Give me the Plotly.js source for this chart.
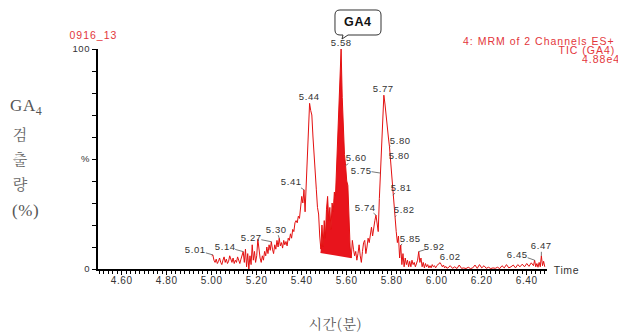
<!DOCTYPE html>
<html><head><meta charset="utf-8">
<script src="https://cdn.plot.ly/plotly-3.0.1.min.js"></script>
<style>
html,body{margin:0;padding:0;background:#fff;}
#chart{width:618px;height:335px;}
#chart text{letter-spacing:0.6px;}
</style>
</head><body><div id="chart"></div>
<script>
// Retention time (min)
const times = [
5.000,5.005,5.010,5.015,5.020,5.025,5.030,5.035,5.040,5.045,
5.050,5.055,5.060,5.065,5.070,5.075,5.080,5.085,5.090,5.095,
5.100,5.105,5.110,5.115,5.120,5.125,5.130,5.135,5.140,5.145,
5.150,5.155,5.160,5.165,5.170,5.175,5.180,5.185,5.190,5.195,
5.200,5.205,5.210,5.215,5.220,5.225,5.230,5.235,5.240,5.245,
5.250,5.255,5.260,5.265,5.270,5.275,5.280,5.285,5.290,5.295,
5.300,5.305,5.310,5.315,5.320,5.325,5.330,5.335,5.340,5.345,
5.350,5.355,5.360,5.365,5.370,5.375,5.380,5.385,5.390,5.395,
5.400,5.405,5.410,5.415,5.420,5.425,5.430,5.435,5.440,5.445,
5.450,5.455,5.460,5.465,5.470,5.475,5.480,5.485,5.490,5.495,
5.500,5.505,5.510,5.515,5.520,5.525,5.530,5.535,5.540,5.545,
5.550,5.555,5.560,5.565,5.570,5.575,5.580,5.585,5.590,5.595,
5.600,5.605,5.610,5.615,5.620,5.625,5.630,5.635,5.640,5.645,
5.650,5.655,5.660,5.665,5.670,5.675,5.680,5.685,5.690,5.695,
5.700,5.705,5.710,5.715,5.720,5.725,5.730,5.735,5.740,5.745,
5.750,5.755,5.760,5.765,5.770,5.775,5.780,5.785,5.790,5.795,
5.800,5.805,5.810,5.815,5.820,5.825,5.830,5.835,5.840,5.845,
5.850,5.855,5.860,5.865,5.870,5.875,5.880,5.885,5.890,5.895,
5.900,5.905,5.910,5.915,5.920,5.925,5.930,5.935,5.940,5.945,
5.950,5.955,5.960,5.965,5.970,5.975,5.980,5.985,5.990,5.995,
6.000,6.005,6.010,6.015,6.020,6.025,6.030,6.035,6.040,6.045,
6.05,6.06,6.07,6.08,6.09,6.10,6.11,6.12,6.13,6.14,
6.15,6.16,6.17,6.18,6.19,6.20,6.21,6.22,6.23,6.24,
6.25,6.26,6.27,6.28,6.29,6.30,6.31,6.32,6.33,6.34,
6.35,6.36,6.37,6.38,6.39,6.40,6.41,6.42,6.43,
6.435,6.440,6.445,6.450,6.455,6.460,6.465,6.470,6.475,6.480
];
// Relative intensity (%)
const intensity = [
6.0,6.4,4.0,3.0,4.5,2.5,3.5,5.0,3.0,2.0,
4.0,5.5,3.0,4.5,2.5,3.5,6.0,4.0,3.0,5.0,
2.5,4.0,3.0,5.5,4.0,2.5,4.5,6.0,7.9,3.0,
9.0,1.0,7.0,0.0,6.0,2.0,11.0,4.0,8.0,3.0,
6.0,13.5,8.0,5.0,3.0,6.0,4.0,8.0,6.0,10.0,
7.0,11.0,8.5,12.4,9.0,7.0,11.0,9.0,13.0,10.0,
14.0,10.5,12.0,9.5,13.0,11.0,12.5,10.5,14.0,13.0,
16.0,14.0,18.0,17.0,21.0,22.0,21.0,24.0,23.0,27.0,
33.0,30.0,36.0,26.0,38.0,52.0,66.0,75.3,72.0,70.0,
60.0,50.0,43.0,36.0,28.0,25.0,15.0,9.0,20.0,10.0,
22.0,14.0,27.0,33.0,22.0,28.0,18.0,30.0,26.0,35.0,
33.0,45.0,62.0,70.0,84.0,100.0,78.0,60.0,52.0,47.0,
40.0,38.0,22.0,10.0,5.0,13.0,9.0,6.0,8.0,4.0,
7.0,11.0,6.0,3.0,8.0,12.0,13.0,7.0,10.0,14.0,
12.0,16.0,19.0,15.0,20.0,22.0,24.5,21.0,17.0,32.0,
43.6,52.0,68.0,79.0,75.0,69.0,64.0,60.0,55.6,49.0,
41.0,33.6,28.0,23.8,17.0,12.0,15.0,5.0,10.9,2.0,
7.0,1.0,5.0,2.0,4.0,1.0,3.5,1.0,4.0,2.0,
3.0,1.0,2.5,4.0,7.9,3.0,5.0,1.0,3.0,0.5,
2.5,1.0,2.0,0.5,1.5,0.5,2.0,1.0,1.5,0.5,
1.5,2.0,2.5,2.9,2.0,1.0,1.8,0.5,1.2,0.4,
0.5,1.5,0.3,1.0,0.2,1.8,0.3,0.5,0.2,0.8,
0.2,0.5,1.8,0.3,2.0,0.5,1.5,0.3,0.8,0.2,
0.5,0.3,0.8,0.2,1.5,0.5,2.0,0.5,1.0,1.8,
0.5,2.0,1.0,2.2,1.0,2.5,1.2,2.8,1.5,
4.0,1.0,2.5,0.8,3.0,1.0,6.0,1.5,3.5,1.0
];
// Integrated GA4 peak: baseline endpoints
const integrationBaseTimes = [5.483, 5.622];
const integrationBaseValues = [7.3, 4.9];
// Labelled peaks
const peakTimes  = [5.005,5.140,5.265,5.300,5.410,5.435,5.575,5.595,5.730,5.750,5.765,5.790,5.795,5.805,5.815,5.840,5.920,6.015,6.435,6.465];
const peakLabels = ["5.01","5.14","5.27","5.30","5.41","5.44","5.58","5.60","5.74","5.75","5.77","5.80","5.80","5.81","5.82","5.85","5.92","6.02","6.45","6.47"];
// label placement (layout): "above" or [ax, ay] pixel offsets
const labelPlacement = [[-17,-5],[-18,-5],[-20,-4],[-3,-9],[-12,-8],"above","above",[11,-8],[-10,-8],[-19,-3],"above",[11,-6],[9,-6],[9,-8],[9,-7],[10,-7],[16,-5],[10,-6],[-17,-6],[0,-10]];
const xTickVals = [4.6,4.8,5.0,5.2,5.4,5.6,5.8,6.0,6.2,6.4];
const xTickText = ["4.60","4.80","5.00","5.20","5.40","5.60","5.80","6.00","6.20","6.40"];
const yTickVals = [0,10,20,30,40,50,60,70,80,90,100];
const yTickText = ["0","","","","","%","","","","","100"];
// Header texts
const sampleName = '0916_13';
const channelInfo = ['4: MRM of 2 Channels ES+', 'TIC (GA4)', '4.88e4'];

// plot-area geometry (pixels) for paper-coordinate helpers
const L=98, R=547, T=49, B=269;
const px = x => (x-L)/(R-L);
const py = y => (B-y)/(B-T);
const P = (x,y) => px(x).toFixed(4)+','+py(y).toFixed(4);

function valueAt(t){
  let best=0;
  for(let i=1;i<times.length;i++) if(Math.abs(times[i]-t)<Math.abs(times[best]-t)) best=i;
  return intensity[best];
}

const i0 = times.findIndex(t => t >= 5.485 - 1e-9);
const i1 = times.findIndex(t => t >= 5.620 - 1e-9);
const fillX = [integrationBaseTimes[0], ...times.slice(i0, i1+1), integrationBaseTimes[1]];
const fillY = [integrationBaseValues[0], ...intensity.slice(i0, i1+1), integrationBaseValues[1]];

const traces = [
  {x: fillX, y: fillY, type:'scatter', mode:'lines', fill:'toself', fillcolor:'#e8141c',
   line:{width:0, color:'#e8141c'}, hoverinfo:'skip', showlegend:false},
  {x: times, y: intensity, type:'scatter', mode:'lines',
   line:{color:'#e31010', width:1}, showlegend:false}
];

const lblFont = {family:'Liberation Sans, Arial, sans-serif', size:9.5, color:'#333'};
const annotations = [];
peakTimes.forEach((t,i)=>{
  const v = valueAt(t);
  const pl = labelPlacement[i];
  if(pl === 'above'){
    annotations.push({x:t, y:v, xref:'x', yref:'y', text:peakLabels[i], showarrow:false,
      xanchor:'center', yanchor:'bottom', yshift:-1, font:lblFont});
  } else {
    annotations.push({x:t, y:v, xref:'x', yref:'y', text:peakLabels[i], showarrow:true,
      arrowhead:0, arrowwidth:0.8, arrowcolor:'#555', ax:pl[0], ay:pl[1], standoff:0,
      borderpad:0, font:lblFont});
  }
});
function txt(x, y, text, font, xanchor, yanchor){
  return {xref:'paper', yref:'paper', x:px(x), y:py(y), text:text, showarrow:false,
    xanchor:xanchor||'center', yanchor:yanchor||'middle', font:font};
}
const redFont = {family:'Liberation Sans, Arial, sans-serif', size:10.5, color:'#e3363b'};
const serifFont = {family:'Liberation Serif, DejaVu Serif, serif', size:17, color:'#555'};
const krFont = {family:'Noto Serif CJK KR, Noto Sans CJK KR, sans-serif', size:15, color:'#666'};
annotations.push(
  txt(93, 35, sampleName, redFont),
  txt(539, 41, channelInfo[0], redFont),
  txt(587, 50, channelInfo[1], redFont),
  txt(601, 59, channelInfo[2], redFont),
  txt(358, 22, '<b>GA4</b>', {family:'Liberation Sans, Arial, sans-serif', size:12.5, color:'#111'}),
  txt(553, 270, 'Time', {family:'Liberation Sans, Arial, sans-serif', size:10.5, color:'#333'}, 'left'),
  txt(26, 107, 'GA<sub>4</sub>', serifFont),
  txt(20, 133, '검', krFont),
  txt(20, 158, '출', krFont),
  txt(20, 183, '량', krFont),
  txt(25, 210, '(%)', serifFont),
  txt(335, 335, '시간(분)', {family:'Noto Serif CJK KR, Noto Sans CJK KR, sans-serif', size:14, color:'#555'}, 'center', 'bottom')
);

const calloutPath = 'M'+P(340,10)+' L'+P(376,10)+' Q'+P(381,10)+' '+P(381,15)+' L'+P(381,30)+
  ' Q'+P(381,35)+' '+P(376,35)+' L'+P(348,35)+' L'+P(342,39)+' L'+P(343,35)+' L'+P(340,35)+
  ' Q'+P(335,35)+' '+P(335,30)+' L'+P(335,15)+' Q'+P(335,10)+' '+P(340,10)+' Z';

const tickFont = {family:'Liberation Sans, Arial, sans-serif', size:10, color:'#333'};
const layout = {
  width:618, height:335,
  margin:{l:L, r:618-R, t:T, b:335-B, pad:0},
  paper_bgcolor:'#fff', plot_bgcolor:'#fff',
  showlegend:false,
  xaxis:{range:[4.4947,6.490], tickmode:'array', tickvals:xTickVals, ticktext:xTickText,
    ticks:'outside', ticklen:4, tickwidth:1, tickcolor:'#000', ticklabelstandoff:-3,
    minor:{tickmode:'linear', tick0:4.6, dtick:0.02, ticks:'outside', ticklen:3, tickwidth:1, tickcolor:'#000', showgrid:false},
    showline:true, linecolor:'#000', linewidth:2, showgrid:false, zeroline:false,
    tickfont:tickFont, fixedrange:true},
  yaxis:{range:[0,100], tickmode:'array', tickvals:yTickVals, ticktext:yTickText,
    ticks:'outside', ticklen:4, tickwidth:1, tickcolor:'#000',
    showline:true, linecolor:'#000', linewidth:2, showgrid:false, zeroline:false,
    tickfont:{family:'Liberation Sans, Arial, sans-serif', size:9.5, color:'#333'}, fixedrange:true},
  annotations: annotations,
  shapes:[{type:'path', xref:'paper', yref:'paper', path:calloutPath,
    line:{color:'#333', width:1}, fillcolor:'#fff', layer:'below'}]
};
Plotly.newPlot('chart', traces, layout, {staticPlot:true, displayModeBar:false}).then(()=>{
  const wide = [sampleName].concat(channelInfo);
  document.querySelectorAll('#chart .annotation-text').forEach(el=>{
    if(wide.includes(el.textContent)) el.style.letterSpacing = '1px';
  });
});
</script>
</body></html>
